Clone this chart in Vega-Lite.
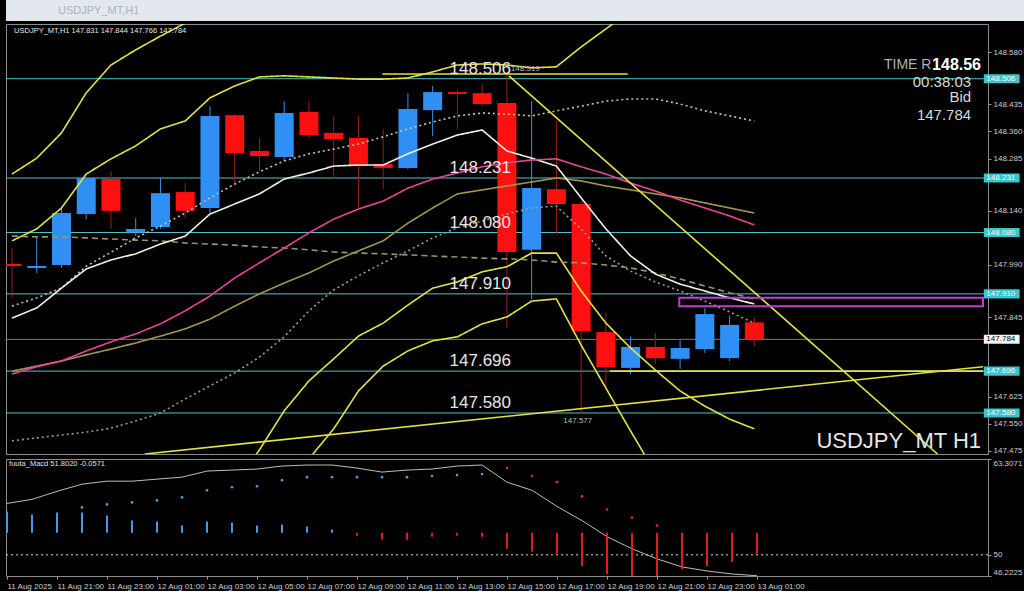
{
"$schema": "https://vega.github.io/schema/vega-lite/v6.json",
"background": "#000000",
"padding": {"left": 5, "top": 0, "right": 0, "bottom": 0},
"spacing": 2,
"config": {"view": {"stroke": "#8c8c8c", "strokeWidth": 1}, "font": "Liberation Sans",
"axis": {"labelColor": "#cfcfcf", "tickColor": "#9a9a9a", "labelFontSize": 8, "domain": false, "grid": false, "titleColor": "#cfcfcf", "tickSize": 3, "labelPadding": 2}},
"datasets": {
"candles": [
{"t":"2025-08-11T19:00","o":147.993,"h":148.037,"l":147.899,"c":147.987},
{"t":"2025-08-11T20:00","o":147.982,"h":148.065,"l":147.968,"c":147.987},
{"t":"2025-08-11T21:00","o":147.990,"h":148.145,"l":147.982,"c":148.134},
{"t":"2025-08-11T22:00","o":148.131,"h":148.233,"l":148.117,"c":148.231},
{"t":"2025-08-11T23:00","o":148.228,"h":148.250,"l":148.090,"c":148.140},
{"t":"2025-08-12T00:00","o":148.081,"h":148.120,"l":148.070,"c":148.090},
{"t":"2025-08-12T01:00","o":148.095,"h":148.231,"l":148.090,"c":148.189},
{"t":"2025-08-12T02:00","o":148.192,"h":148.217,"l":148.120,"c":148.140},
{"t":"2025-08-12T03:00","o":148.148,"h":148.430,"l":148.131,"c":148.403},
{"t":"2025-08-12T04:00","o":148.405,"h":148.408,"l":148.214,"c":148.300},
{"t":"2025-08-12T05:00","o":148.306,"h":148.342,"l":148.250,"c":148.292},
{"t":"2025-08-12T06:00","o":148.289,"h":148.444,"l":148.278,"c":148.411},
{"t":"2025-08-12T07:00","o":148.414,"h":148.444,"l":148.342,"c":148.350},
{"t":"2025-08-12T08:00","o":148.356,"h":148.403,"l":148.231,"c":148.339},
{"t":"2025-08-12T09:00","o":148.342,"h":148.403,"l":148.148,"c":148.264},
{"t":"2025-08-12T10:00","o":148.270,"h":148.367,"l":148.200,"c":148.259},
{"t":"2025-08-12T11:00","o":148.259,"h":148.466,"l":148.255,"c":148.422},
{"t":"2025-08-12T12:00","o":148.419,"h":148.486,"l":148.347,"c":148.469},
{"t":"2025-08-12T13:00","o":148.469,"h":148.475,"l":148.367,"c":148.464},
{"t":"2025-08-12T14:00","o":148.466,"h":148.491,"l":148.430,"c":148.436},
{"t":"2025-08-12T15:00","o":148.439,"h":148.519,"l":147.816,"c":148.026},
{"t":"2025-08-12T16:00","o":148.032,"h":148.444,"l":147.896,"c":148.203},
{"t":"2025-08-12T17:00","o":148.200,"h":148.389,"l":148.076,"c":148.159},
{"t":"2025-08-12T18:00","o":148.159,"h":148.167,"l":147.577,"c":147.807},
{"t":"2025-08-12T19:00","o":147.804,"h":147.857,"l":147.649,"c":147.707},
{"t":"2025-08-12T20:00","o":147.705,"h":147.793,"l":147.688,"c":147.763},
{"t":"2025-08-12T21:00","o":147.763,"h":147.802,"l":147.716,"c":147.732},
{"t":"2025-08-12T22:00","o":147.730,"h":147.782,"l":147.702,"c":147.760},
{"t":"2025-08-12T23:00","o":147.757,"h":147.871,"l":147.746,"c":147.854},
{"t":"2025-08-13T00:00","o":147.732,"h":147.849,"l":147.724,"c":147.824},
{"t":"2025-08-13T01:00","o":147.831,"h":147.844,"l":147.766,"c":147.784}
],
"lines": [
{"t":"2025-08-11T19:00","bo":148.242,"bi":148.057,"w":147.843,"pk":147.688,"ol":147.696,"gd":148.070,"du":147.876,"dd":147.503},
{"t":"2025-08-11T20:00","bo":148.286,"bi":148.090,"w":147.871,"pk":147.708,"ol":147.710,"gd":148.068,"du":147.899,"dd":147.511},
{"t":"2025-08-11T21:00","bo":148.356,"bi":148.148,"w":147.926,"pk":147.724,"ol":147.724,"gd":148.068,"du":147.926,"dd":147.519},
{"t":"2025-08-11T22:00","bo":148.467,"bi":148.242,"w":147.979,"pk":147.752,"ol":147.741,"gd":148.065,"du":147.987,"dd":147.527},
{"t":"2025-08-11T23:00","bo":148.544,"bi":148.284,"w":148.004,"pk":147.777,"ol":147.757,"gd":148.062,"du":148.025,"dd":147.538},
{"t":"2025-08-12T00:00","bo":148.586,"bi":148.320,"w":148.021,"pk":147.799,"ol":147.774,"gd":148.059,"du":148.065,"dd":147.558},
{"t":"2025-08-12T01:00","bo":148.624,"bi":148.367,"w":148.048,"pk":147.827,"ol":147.793,"gd":148.057,"du":148.098,"dd":147.580},
{"t":"2025-08-12T02:00","bo":148.660,"bi":148.389,"w":148.070,"pk":147.863,"ol":147.813,"gd":148.051,"du":148.134,"dd":147.619},
{"t":"2025-08-12T03:00","bo":148.694,"bi":148.453,"w":148.131,"pk":147.904,"ol":147.840,"gd":148.048,"du":148.176,"dd":147.655},
{"t":"2025-08-12T04:00","bi":148.486,"li":147.381,"w":148.159,"pk":147.954,"ol":147.876,"gd":148.045,"du":148.214,"dd":147.691},
{"t":"2025-08-12T05:00","bi":148.511,"li":147.478,"w":148.187,"pk":147.996,"ol":147.910,"gd":148.040,"du":148.248,"dd":147.735},
{"t":"2025-08-12T06:00","bi":148.514,"li":147.586,"lo":147.350,"w":148.228,"pk":148.037,"ol":147.940,"gd":148.037,"du":148.278,"dd":147.791},
{"t":"2025-08-12T07:00","bi":148.511,"li":147.669,"lo":147.453,"w":148.245,"pk":148.079,"ol":147.968,"gd":148.032,"du":148.298,"dd":147.863},
{"t":"2025-08-12T08:00","bi":148.508,"li":147.730,"lo":147.536,"w":148.264,"pk":148.117,"ol":148.001,"gd":148.026,"du":148.311,"dd":147.921},
{"t":"2025-08-12T09:00","bi":148.505,"li":147.793,"lo":147.641,"w":148.267,"pk":148.145,"ol":148.029,"gd":148.023,"du":148.325,"dd":147.960},
{"t":"2025-08-12T10:00","bi":148.505,"li":147.829,"lo":147.710,"w":148.267,"pk":148.167,"ol":148.057,"gd":148.021,"du":148.345,"dd":147.996},
{"t":"2025-08-12T11:00","bi":148.508,"li":147.879,"lo":147.752,"w":148.298,"pk":148.203,"ol":148.106,"gd":148.018,"du":148.367,"dd":148.029},
{"t":"2025-08-12T12:00","bi":148.525,"li":147.926,"lo":147.780,"w":148.325,"pk":148.228,"ol":148.148,"gd":148.015,"du":148.386,"dd":148.065},
{"t":"2025-08-12T13:00","bi":148.544,"li":147.943,"lo":147.791,"w":148.350,"pk":148.245,"ol":148.187,"gd":148.012,"du":148.403,"dd":148.093},
{"t":"2025-08-12T14:00","bi":148.547,"li":147.971,"lo":147.827,"w":148.364,"pk":148.262,"ol":148.198,"gd":148.009,"du":148.411,"dd":148.112},
{"t":"2025-08-12T15:00","bi":148.544,"li":147.985,"lo":147.846,"w":148.306,"pk":148.273,"ol":148.209,"gd":148.007,"du":148.408,"dd":148.131},
{"t":"2025-08-12T16:00","bi":148.536,"li":148.023,"lo":147.890,"w":148.286,"pk":148.281,"ol":148.220,"gd":148.004,"du":148.403,"dd":148.148},
{"t":"2025-08-12T17:00","bi":148.539,"li":148.023,"lo":147.896,"w":148.264,"pk":148.284,"ol":148.231,"gd":147.998,"du":148.417,"dd":148.153},
{"t":"2025-08-12T18:00","bi":148.594,"li":147.918,"lo":147.768,"w":148.176,"pk":148.262,"ol":148.223,"gd":147.996,"du":148.430,"dd":148.090},
{"t":"2025-08-12T19:00","bi":148.644,"li":147.829,"lo":147.649,"w":148.090,"pk":148.242,"ol":148.209,"gd":147.990,"du":148.444,"dd":148.015},
{"t":"2025-08-12T20:00","bi":148.694,"li":147.760,"lo":147.530,"w":148.015,"pk":148.217,"ol":148.198,"gd":147.982,"du":148.450,"dd":147.973},
{"t":"2025-08-12T21:00","li":147.699,"lo":147.414,"w":147.965,"pk":148.195,"ol":148.187,"gd":147.968,"du":148.450,"dd":147.943},
{"t":"2025-08-12T22:00","li":147.641,"w":147.937,"pk":148.170,"ol":148.176,"gd":147.951,"du":148.436,"dd":147.918},
{"t":"2025-08-12T23:00","li":147.599,"w":147.918,"pk":148.148,"ol":148.162,"gd":147.932,"du":148.417,"dd":147.890},
{"t":"2025-08-13T00:00","li":147.563,"w":147.899,"pk":148.126,"ol":148.148,"gd":147.913,"du":148.403,"dd":147.860},
{"t":"2025-08-13T01:00","li":147.536,"w":147.882,"pk":148.101,"ol":148.134,"gd":147.896,"du":148.389,"dd":147.829}
],
"levels": [
{"p":148.506,"lab":"148.506"},{"p":148.231,"lab":"148.231"},{"p":148.080,"lab":"148.080"},
{"p":147.910,"lab":"147.910"},{"p":147.696,"lab":"147.696"},{"p":147.580,"lab":"147.580"}
],
"boxes": [
{"p":148.506,"lab":"148.506","k":"lvl"},{"p":148.231,"lab":"148.231","k":"lvl"},{"p":148.080,"lab":"148.080","k":"lvl"},
{"p":147.910,"lab":"147.910","k":"lvl"},{"p":147.696,"lab":"147.696","k":"lvl"},{"p":147.580,"lab":"147.580","k":"lvl"},
{"p":147.784,"lab":"147.784","k":"bid"}
],
"trend": [
{"id":"down","t":"2025-08-12T15:05","p":148.514},{"id":"down","t":"2025-08-13T08:24","p":147.4664},
{"id":"up","t":"2025-08-12T00:22","p":147.4664},{"id":"up","t":"2025-08-13T10:14:24","p":147.708},
{"id":"hl","t":"2025-08-12T19:10","p":147.696},{"id":"hl","t":"2025-08-13T10:14:24","p":147.696},
{"id":"wh","t":"2025-08-12T09:58","p":148.519},{"id":"wh","t":"2025-08-12T19:53","p":148.519}
],
"box": [{"t1":"2025-08-12T21:58","t2":"2025-08-13T10:14:24","p1":147.876,"p2":147.899}],
"notes": [
{"k":"hdr","t":"2025-08-11T19:05","p":148.638,"txt":"USDJPY_MT,H1  147.831 147.844 147.766 147.784"},
{"k":"sm","t":"2025-08-12T15:09:36","p":148.533,"txt":"148.519"},
{"k":"sm","t":"2025-08-12T17:16:48","p":147.558,"txt":"147.577"},
{"k":"tr","t":"2025-08-13T06:14:24","p":148.544,"txt":"TIME R"},
{"k":"big","t":"2025-08-13T10:09:36","p":148.544,"txt":"148.56"},
{"k":"clock","t":"2025-08-13T09:45:36","p":148.497,"txt":"00:38:03"},
{"k":"clock","t":"2025-08-13T09:45:36","p":148.455,"txt":"Bid"},
{"k":"clock","t":"2025-08-13T09:45:36","p":148.405,"txt":"147.784"},
{"k":"sym","t":"2025-08-13T10:09:36","p":147.5036,"txt":"USDJPY_MT H1"}
],
"macd": [
{"t":"2025-08-11T19:00","ln":57.14,"h":56.02},
{"t":"2025-08-11T20:00","ln":57.70,"h":55.60},
{"t":"2025-08-11T21:00","ln":58.82,"h":55.88},
{"t":"2025-08-11T22:00","ln":59.81,"dt":56.58,"h":55.88},
{"t":"2025-08-11T23:00","ln":60.23,"dt":57.00,"h":55.46},
{"t":"2025-08-12T00:00","ln":60.23,"dt":57.28,"h":54.76},
{"t":"2025-08-12T01:00","ln":60.51,"dt":57.56,"h":54.62},
{"t":"2025-08-12T02:00","ln":60.79,"dt":57.98,"h":54.06},
{"t":"2025-08-12T03:00","ln":61.63,"dt":58.96,"h":54.62},
{"t":"2025-08-12T04:00","ln":61.77,"dt":59.39,"h":54.48},
{"t":"2025-08-12T05:00","ln":61.91,"dt":59.53,"h":54.06},
{"t":"2025-08-12T06:00","ln":62.33,"dt":60.37,"h":54.20},
{"t":"2025-08-12T07:00","ln":62.47,"dt":60.79,"h":53.92},
{"t":"2025-08-12T08:00","ln":62.47,"dt":60.79,"h":53.50},
{"t":"2025-08-12T09:00","ln":62.05,"dt":60.79,"h":52.66},
{"t":"2025-08-12T10:00","ln":61.49,"dt":60.79,"h":52.10},
{"t":"2025-08-12T11:00","ln":61.77,"dt":60.79,"h":52.10},
{"t":"2025-08-12T12:00","ln":61.91,"dt":60.93,"h":52.52},
{"t":"2025-08-12T13:00","ln":62.33,"dt":61.07,"h":52.66},
{"t":"2025-08-12T14:00","ln":62.47,"dt":61.21,"h":52.52},
{"t":"2025-08-12T15:00","ln":60.09,"dt":62.05,"h":50.84},
{"t":"2025-08-12T16:00","ln":58.96,"dt":60.93,"h":50.42},
{"t":"2025-08-12T17:00","ln":56.72,"dt":60.09,"h":50.14},
{"t":"2025-08-12T18:00","ln":54.76,"dt":58.12,"h":48.46},
{"t":"2025-08-12T19:00","ln":52.52,"dt":56.30,"h":47.34},
{"t":"2025-08-12T20:00","ln":50.84,"dt":55.18,"h":47.06},
{"t":"2025-08-12T21:00","ln":49.44,"dt":54.06,"h":47.06},
{"t":"2025-08-12T22:00","ln":48.32,"h":48.04},
{"t":"2025-08-12T23:00","ln":47.76,"h":48.46},
{"t":"2025-08-13T00:00","ln":47.34,"h":49.02},
{"t":"2025-08-13T01:00","ln":47.10,"h":50.14}
]
},
"vconcat": [
{
"width": 1019, "height": 21,
"view": {"fill": "#e3e8ee", "stroke": null},
"data": {"values": [{"title": "USDJPY_MT,H1"}]},
"mark": {"type": "text", "align": "left", "baseline": "middle", "fontSize": 11, "color": "#aab2bc"},
"encoding": {
"x": {"datum": 52, "type": "quantitative", "scale": {"domain": [0, 1019]}, "axis": null},
"y": {"datum": 0.5, "type": "quantitative", "scale": {"domain": [0, 1]}, "axis": null},
"text": {"field": "title"}
}
},
{
"width": 982, "height": 430,
"resolve": {"axis": {"x": "independent", "y": "independent"}},
"layer": [
{"data": {"name": "levels"}, "mark": {"type": "rule", "color": "#4ec4c8", "strokeWidth": 1},
"encoding": {"y": {"field": "p", "type": "quantitative", "scale": {"domain": [147.4664, 148.6576], "nice": false, "zero": false},
"axis": {"orient": "right", "values": [148.58, 148.435, 148.36, 148.285, 148.14, 147.99, 147.845, 147.625, 147.55, 147.475], "format": ".3f", "labelColor": "#cfcfcf", "labelFontSize": 8, "tickColor": "#9a9a9a", "tickSize": 3, "labelPadding": 2, "domain": false, "grid": false, "title": null}}}},
{"data": {"name": "boxes"}, "transform": [{"filter": "datum.k == 'bid'"}], "mark": {"type": "rule", "color": "#7a7a7a", "strokeWidth": 1},
"encoding": {"y": {"field": "p", "type": "quantitative", "scale": {"domain": [147.4664, 148.6576], "nice": false, "zero": false}, "axis": null}}},
{"data": {"name": "candles"}, "mark": {"type": "rule", "strokeWidth": 1, "clip": true},
"encoding": {
"x": {"field": "t", "type": "temporal", "scale": {"domain": [{"year":2025,"month":8,"date":11,"hours":18,"minutes":57,"seconds":36},{"year":2025,"month":8,"date":13,"hours":10,"minutes":14,"seconds":24}]}, "axis": null},
"y": {"field": "l", "type": "quantitative", "scale": {"domain": [147.4664, 148.6576], "nice": false, "zero": false}, "axis": null},
"y2": {"field": "h"},
"color": {"condition": {"test": "datum.c >= datum.o", "value": "#3a8fe8"}, "value": "#9e1c1c"}}},
{"data": {"name": "candles"}, "mark": {"type": "bar", "width": 19, "clip": true},
"encoding": {
"x": {"field": "t", "type": "temporal", "axis": null},
"y": {"field": "o", "type": "quantitative", "axis": null},
"y2": {"field": "c"},
"color": {"condition": {"test": "datum.c >= datum.o", "value": "#2f8ff5"}, "value": "#ff1010"}}},
{"data": {"name": "lines"}, "transform": [{"fold": ["bo","bi","li","lo","gd","dd","du","ol","w","pk"], "as": ["s","v"]}],
"mark": {"type": "line", "clip": true},
"encoding": {
"x": {"field": "t", "type": "temporal", "axis": null},
"y": {"field": "v", "type": "quantitative", "axis": null},
"color": {"field": "s", "type": "nominal", "legend": null, "scale": {"domain": ["bo","bi","li","lo","gd","dd","du","ol","w","pk"], "range": ["#e2e244","#e2e244","#e2e244","#e2e244","#8f9a68","#9c9c9c","#c9c5a8","#a4964e","#f2efe6","#e8449a"]}},
"strokeDash": {"field": "s", "type": "nominal", "legend": null, "scale": {"domain": ["bo","bi","li","lo","gd","dd","du","ol","w","pk"], "range": [[1,0],[1,0],[1,0],[1,0],[6,4],[2,3],[2,3],[1,0],[1,0],[1,0]]}},
"strokeWidth": {"field": "s", "type": "nominal", "legend": null, "scale": {"domain": ["bo","bi","li","lo","gd","dd","du","ol","w","pk"], "range": [1.6,1.6,1.6,1.6,1,1,1,1,1.8,2.8]}}}},
{"data": {"name": "trend"}, "mark": {"type": "line", "clip": true},
"encoding": {
"x": {"field": "t", "type": "temporal", "axis": null},
"y": {"field": "p", "type": "quantitative", "axis": null},
"color": {"field": "id", "type": "nominal", "legend": null, "scale": {"domain": ["down","up","hl","wh"], "range": ["#f0c419","#f0c419","#e2e23c","#f2f2f2"]}},
"strokeWidth": {"field": "id", "type": "nominal", "legend": null, "scale": {"domain": ["down","up","hl","wh"], "range": [2.5,2.5,2,1.5]}}}},
{"data": {"name": "box"}, "mark": {"type": "rect", "fillOpacity": 0, "stroke": "#c43bd0", "strokeWidth": 2, "clip": true},
"encoding": {
"x": {"field": "t1", "type": "temporal", "axis": null},
"x2": {"field": "t2"},
"y": {"field": "p1", "type": "quantitative", "axis": null},
"y2": {"field": "p2"}}},
{"data": {"name": "notes"}, "transform": [{"filter": "datum.k == 'sm'"}], "mark": {"type": "text", "align": "left", "baseline": "middle", "fontSize": 8, "color": "#bdbdbd"},
"encoding": {"x": {"field": "t", "type": "temporal", "axis": null}, "y": {"field": "p", "type": "quantitative", "axis": null}, "text": {"field": "txt"}}},
{"data": {"name": "levels"}, "mark": {"type": "text", "align": "left", "baseline": "bottom", "dy": -1, "fontSize": 17, "color": "#e6e6e6"},
"encoding": {"x": {"datum": {"year":2025,"month":8,"date":12,"hours":12,"minutes":41}, "type": "temporal", "axis": null}, "y": {"field": "p", "type": "quantitative", "axis": null}, "text": {"field": "lab"}}},
{"data": {"name": "notes"}, "transform": [{"filter": "datum.k == 'hdr'"}], "mark": {"type": "text", "align": "left", "baseline": "middle", "fontSize": 7.5, "color": "#e6e6e6"},
"encoding": {"x": {"field": "t", "type": "temporal", "axis": null}, "y": {"field": "p", "type": "quantitative", "axis": null}, "text": {"field": "txt"}}},
{"data": {"name": "notes"}, "transform": [{"filter": "datum.k == 'tr'"}], "mark": {"type": "text", "align": "left", "baseline": "middle", "fontSize": 14, "color": "#b0b0b0"},
"encoding": {"x": {"field": "t", "type": "temporal", "axis": null}, "y": {"field": "p", "type": "quantitative", "axis": null}, "text": {"field": "txt"}}},
{"data": {"name": "notes"}, "transform": [{"filter": "datum.k == 'big'"}], "mark": {"type": "text", "align": "right", "baseline": "middle", "fontSize": 16, "fontWeight": "bold", "color": "#ffffff"},
"encoding": {"x": {"field": "t", "type": "temporal", "axis": null}, "y": {"field": "p", "type": "quantitative", "axis": null}, "text": {"field": "txt"}}},
{"data": {"name": "notes"}, "transform": [{"filter": "datum.k == 'clock'"}], "mark": {"type": "text", "align": "right", "baseline": "middle", "fontSize": 15, "color": "#d8d8d8"},
"encoding": {"x": {"field": "t", "type": "temporal", "axis": null}, "y": {"field": "p", "type": "quantitative", "axis": null}, "text": {"field": "txt"}}},
{"data": {"name": "notes"}, "transform": [{"filter": "datum.k == 'sym'"}], "mark": {"type": "text", "align": "right", "baseline": "middle", "fontSize": 22, "color": "#e6e6e6"},
"encoding": {"x": {"field": "t", "type": "temporal", "axis": null}, "y": {"field": "p", "type": "quantitative", "axis": null}, "text": {"field": "txt"}}},
{"data": {"name": "boxes"}, "transform": [{"calculate": "datum.p - 0.0125", "as": "p1"}, {"calculate": "datum.p + 0.0125", "as": "p2"}],
"mark": {"type": "rect"},
"encoding": {
"x": {"datum": {"year":2025,"month":8,"date":13,"hours":10,"minutes":16,"seconds":24}, "type": "temporal", "axis": null},
"x2": {"datum": {"year":2025,"month":8,"date":13,"hours":11,"minutes":43,"seconds":12}},
"y": {"field": "p1", "type": "quantitative", "axis": null},
"y2": {"field": "p2"},
"color": {"condition": {"test": "datum.k == 'bid'", "value": "#f4f4f4"}, "value": "#3cc4cc"}}},
{"data": {"name": "boxes"}, "mark": {"type": "text", "align": "center", "baseline": "middle", "fontSize": 8},
"encoding": {
"x": {"datum": {"year":2025,"month":8,"date":13,"hours":10,"minutes":57,"seconds":36}, "type": "temporal", "axis": null},
"y": {"field": "p", "type": "quantitative", "axis": null},
"text": {"field": "lab"},
"color": {"condition": {"test": "datum.k == 'bid'", "value": "#000000"}, "value": "#f0ffff"}}}
]
},
{
"width": 982, "height": 117,
"resolve": {"axis": {"x": "independent", "y": "independent"}},
"layer": [
{"data": {"name": "macd"}, "mark": {"type": "line", "color": "#bdbdbd", "strokeWidth": 1, "clip": true},
"encoding": {
"x": {"field": "t", "type": "temporal", "scale": {"domain": [{"year":2025,"month":8,"date":11,"hours":18,"minutes":57,"seconds":36},{"year":2025,"month":8,"date":13,"hours":10,"minutes":14,"seconds":24}]},
"axis": {"values": [
{"year":2025,"month":8,"date":11,"hours":19},{"year":2025,"month":8,"date":11,"hours":21},{"year":2025,"month":8,"date":11,"hours":23},
{"year":2025,"month":8,"date":12,"hours":1},{"year":2025,"month":8,"date":12,"hours":3},{"year":2025,"month":8,"date":12,"hours":5},
{"year":2025,"month":8,"date":12,"hours":7},{"year":2025,"month":8,"date":12,"hours":9},{"year":2025,"month":8,"date":12,"hours":11},
{"year":2025,"month":8,"date":12,"hours":13},{"year":2025,"month":8,"date":12,"hours":15},{"year":2025,"month":8,"date":12,"hours":17},
{"year":2025,"month":8,"date":12,"hours":19},{"year":2025,"month":8,"date":12,"hours":21},{"year":2025,"month":8,"date":12,"hours":23},
{"year":2025,"month":8,"date":13,"hours":1}],
"labelExpr": "timeFormat(datum.value, '%d %H') == '11 19' ? '11 Aug 2025' : timeFormat(datum.value, '%d %b %H:%M')",
"labelAlign": "left", "labelColor": "#cfcfcf", "labelFontSize": 8, "tickColor": "#9a9a9a", "tickSize": 3, "labelPadding": 3, "domain": false, "grid": false, "title": null, "labelOverlap": false, "labelFlush": false}},
"y": {"field": "ln", "type": "quantitative", "scale": {"domain": [47.06, 63.3071], "nice": false, "zero": false},
"axis": {"orient": "right", "values": [63.3071, 50, 47.06], "labelExpr": "datum.value > 60 ? '63.3071' : (datum.value > 49 ? '50' : '46.2225')", "labelFlush": true, "labelColor": "#cfcfcf", "labelFontSize": 8, "tickColor": "#9a9a9a", "tickSize": 3, "labelPadding": 2, "domain": false, "grid": false, "title": null}}}},
{"data": {"values": [{"lvl": 50}]}, "mark": {"type": "rule", "color": "#d8d8d8", "strokeDash": [2,3], "strokeWidth": 1},
"encoding": {"y": {"field": "lvl", "type": "quantitative", "axis": null}}},
{"data": {"name": "macd"}, "transform": [{"calculate": "53.08", "as": "base"}], "mark": {"type": "rule", "strokeWidth": 2, "clip": true},
"encoding": {
"x": {"field": "t", "type": "temporal", "axis": null},
"y": {"field": "h", "type": "quantitative", "axis": null},
"y2": {"field": "base"},
"color": {"condition": {"test": "datum.h > 53.08", "value": "#4a96e8"}, "value": "#e01b1b"}}},
{"data": {"name": "macd"}, "mark": {"type": "point", "filled": true, "size": 7, "opacity": 1},
"encoding": {"x": {"field": "t", "type": "temporal", "axis": null}, "y": {"field": "dt", "type": "quantitative", "axis": null},
"color": {"condition": {"test": "datum.dt > datum.ln", "value": "#d83040"}, "value": "#40a8e0"}}},
{"data": {"values": [{"t": "2025-08-11T19:05", "v": 62.6, "txt": "fuuta_Macd 51.8020   -0.0571"}]}, "mark": {"type": "text", "align": "left", "baseline": "middle", "fontSize": 7.5, "color": "#e0e0e0"},
"encoding": {"x": {"field": "t", "type": "temporal", "axis": null}, "y": {"field": "v", "type": "quantitative", "axis": null}, "text": {"field": "txt"}}}
]
}
]
}
